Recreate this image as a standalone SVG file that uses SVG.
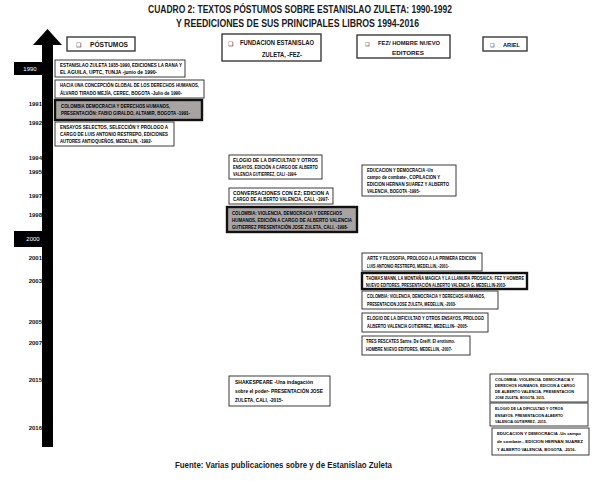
<svg xmlns="http://www.w3.org/2000/svg" width="599" height="481" viewBox="0 0 599 481">
<style>
.bg{fill:#fff}
.box{fill:#fff;stroke:#3a3a3a;stroke-width:1}
.hbox{fill:#fff;stroke:#3a3a3a;stroke-width:1.4}
.thick{stroke:#111;stroke-width:2.4}
.gray{fill:#a9a4a4}
.t{font-family:"Liberation Sans",Arial,sans-serif;font-weight:bold;font-size:5.3px;fill:#000}
.s{font-size:4.2px}
.h{font-family:"Liberation Sans",Arial,sans-serif;font-weight:bold;font-size:7px;fill:#111}
.cb{font-family:"DejaVu Sans",sans-serif;font-size:6px;fill:#111}
.yr{font-family:"Liberation Sans",Arial,sans-serif;font-weight:bold;font-size:6px;fill:#111;text-anchor:end}
.yw{font-family:"Liberation Sans",Arial,sans-serif;font-size:6px;fill:#fff;text-anchor:middle}
.title{font-family:"Liberation Sans",Arial,sans-serif;font-weight:bold;font-size:11px;fill:#1a1a1a}
.src{font-family:"Liberation Sans",Arial,sans-serif;font-weight:bold;font-size:8.5px;fill:#1a1a1a}
</style>
<rect class="bg" x="0" y="0" width="599" height="481"/>
<g id="title">
<text class="title" x="148" y="13" textLength="304" lengthAdjust="spacingAndGlyphs">CUADRO 2: TEXTOS PÓSTUMOS SOBRE ESTANISLAO ZULETA: 1990-1992</text>
<text class="title" x="176" y="27" textLength="243" lengthAdjust="spacingAndGlyphs">Y REEDICIONES DE SUS PRINCIPALES LIBROS 1994-2016</text>
</g>
<g id="timeline">
<polygon points="47.5,29 62,45 53,45 53,447 42,447 42,45 33,45" fill="#000"/>
<rect x="14" y="62" width="30" height="13" fill="#000"/>
<text class="yw" x="30" y="71">1990</text>
<rect x="14" y="231" width="30" height="16" fill="#000"/>
<text class="yw" x="33" y="241">2000</text>
<text class="yr" x="42" y="106">1991</text>
<text class="yr" x="42" y="125">1992</text>
<text class="yr" x="42" y="160">1994</text>
<text class="yr" x="42" y="174">1995</text>
<text class="yr" x="42" y="198">1997</text>
<text class="yr" x="42" y="217">1998</text>
<text class="yr" x="42" y="260">2001</text>
<text class="yr" x="42" y="283">2003</text>
<text class="yr" x="42" y="324">2005</text>
<text class="yr" x="42" y="345">2007</text>
<text class="yr" x="42" y="382">2015</text>
<text class="yr" x="42" y="430">2016</text>
</g>
<g id="h-postumos">
<rect class="hbox" x="67" y="37" width="68" height="14"/>
<text class="cb" x="76" y="47">❑</text>
<text class="h" x="90" y="47" textLength="38" lengthAdjust="spacingAndGlyphs">PÓSTUMOS</text>
</g>
<g id="h-fundacion">
<rect class="hbox" x="222" y="34" width="99" height="27"/>
<text class="cb" x="228" y="46">❑</text>
<text class="h" x="240" y="45" textLength="74" lengthAdjust="spacingAndGlyphs">FUNDACION ESTANISLAO</text>
<text class="h" x="262" y="57" textLength="40" lengthAdjust="spacingAndGlyphs">ZULETA, -FEZ-</text>
</g>
<g id="h-fez">
<rect class="hbox" x="357" y="35" width="93" height="23"/>
<text class="cb" x="365" y="46" style="font-size:5px">❑</text>
<text class="h" x="378" y="45" textLength="62" lengthAdjust="spacingAndGlyphs" style="font-size:6px">FEZ/ HOMBRE NUEVO</text>
<text class="h" x="392" y="55" textLength="32" lengthAdjust="spacingAndGlyphs" style="font-size:6px">EDITORES</text>
</g>
<g id="h-ariel">
<rect class="hbox" x="483" y="37" width="44" height="14"/>
<text class="cb" x="490" y="47" style="font-size:5px">❑</text>
<text class="h" x="503" y="47" textLength="17" lengthAdjust="spacingAndGlyphs" style="font-size:6px">ARIEL</text>
</g>
<g id="p1990a">
<rect class="box" x="55" y="60" width="130" height="17"/>
<text class="t" x="60" y="67" textLength="122" lengthAdjust="spacingAndGlyphs">ESTANISLAO ZULETA 1935-1990, EDICIONES LA RANA Y</text>
<text class="t" x="60" y="74" textLength="97" lengthAdjust="spacingAndGlyphs">EL AGUILA, UPTC, TUNJA -junio de 1990-</text>
</g>
<g id="p1990b">
<rect class="box" x="55" y="80" width="149" height="18"/>
<text class="t" x="60" y="87" textLength="139" lengthAdjust="spacingAndGlyphs">HACIA UNA CONCEPCIÓN GLOBAL DE LOS DERECHOS HUMANOS,</text>
<text class="t" x="60" y="95" textLength="122" lengthAdjust="spacingAndGlyphs">ÁLVARO TIRADO MEJÍA, CEREC, BOGOTA -Julio de 1990-</text>
</g>
<g id="p1991">
<rect class="box thick gray" x="55" y="100" width="147" height="20"/>
<text class="t" x="61" y="108" textLength="109" lengthAdjust="spacingAndGlyphs">COLOMBIA DEMOCRACIA Y DERECHOS HUMANOS,</text>
<text class="t" x="61" y="115" textLength="129" lengthAdjust="spacingAndGlyphs">PRESENTACIÓN: FABIO GIRALDO, ALTAMIR, BOGOTA -1991-</text>
</g>
<g id="p1992">
<rect class="box" x="55" y="122" width="119" height="24"/>
<text class="t" x="60" y="129" textLength="108" lengthAdjust="spacingAndGlyphs">ENSAYOS SELECTOS, SELECCIÓN Y PROLOGO A</text>
<text class="t" x="60" y="136" textLength="108" lengthAdjust="spacingAndGlyphs">CARGO DE LUIS ANTONIO RESTREPO, EDICIONES</text>
<text class="t" x="60" y="143" textLength="92" lengthAdjust="spacingAndGlyphs">AUTORES ANTIOQUEÑOS, MEDELLIN, -1992-</text>
</g>
<g id="f1994">
<rect class="box" x="229" y="155" width="93" height="24"/>
<text class="t" x="233" y="162" textLength="85" lengthAdjust="spacingAndGlyphs">ELOGIO DE LA DIFICULTAD Y OTROS</text>
<text class="t" x="233" y="169" textLength="85" lengthAdjust="spacingAndGlyphs">ENSAYOS, EDICIÓN A CARGO DE ALBERTO</text>
<text class="t" x="233" y="176" textLength="64" lengthAdjust="spacingAndGlyphs">VALENCIA GUTIERREZ, CALI -1994-</text>
</g>
<g id="f1997">
<rect class="box" x="229" y="188" width="104" height="16"/>
<text class="t" x="233" y="195" textLength="96" lengthAdjust="spacingAndGlyphs">CONVERSACIONES CON EZ; EDICION A</text>
<text class="t" x="233" y="201" textLength="96" lengthAdjust="spacingAndGlyphs">CARGO DE ALBERTO VALENCIA, CALI, -1997-</text>
</g>
<g id="f1998">
<rect class="box thick gray" x="227" y="207" width="130" height="25"/>
<text class="t" x="232" y="215" textLength="110" lengthAdjust="spacingAndGlyphs">COLOMBIA: VIOLENCIA, DEMOCRACIA Y DERECHOS</text>
<text class="t" x="232" y="222" textLength="120" lengthAdjust="spacingAndGlyphs">HUMANOS, EDICIÓN A CARGO DE ALBERTO VALENCIA</text>
<text class="t" x="232" y="229" textLength="116" lengthAdjust="spacingAndGlyphs">GUTIERREZ PRESENTACIÓN JOSE ZULETA, CALI, -1998-</text>
</g>
<g id="f2015">
<rect class="box" x="229" y="376" width="101" height="30"/>
<text class="t" x="235" y="384" textLength="78" lengthAdjust="spacingAndGlyphs">SHAKESPEARE -Una indagación</text>
<text class="t" x="235" y="393" textLength="88" lengthAdjust="spacingAndGlyphs">sobre el poder- PRESENTACIÓN JOSE</text>
<text class="t" x="235" y="402" textLength="48" lengthAdjust="spacingAndGlyphs">ZULETA, CALI, -2015-</text>
</g>
<g id="z1995">
<rect class="box" x="362" y="165" width="94" height="31"/>
<text class="t" x="367" y="172" textLength="66" lengthAdjust="spacingAndGlyphs">EDUCACION Y DEMOCRACIA -Un</text>
<text class="t" x="367" y="179" textLength="73" lengthAdjust="spacingAndGlyphs">campo de combate-, COPILACION Y</text>
<text class="t" x="367" y="186" textLength="82" lengthAdjust="spacingAndGlyphs">EDICION HERNAN SUAREZ Y ALBERTO</text>
<text class="t" x="367" y="193" textLength="53" lengthAdjust="spacingAndGlyphs">VALENCIA, BOGOTA -1995-</text>
</g>
<g id="z2001">
<rect class="box" x="362" y="253" width="120" height="18"/>
<text class="t" x="367" y="260" textLength="109" lengthAdjust="spacingAndGlyphs">ARTE Y FILOSOFIA, PROLOGO A LA PRIMERA EDICION</text>
<text class="t" x="367" y="268" textLength="82" lengthAdjust="spacingAndGlyphs">LUIS ANTONIO RESTREPO, MEDELLIN, -2001-</text>
</g>
<g id="z2003a">
<rect class="box thick" x="362" y="273" width="165" height="16"/>
<text class="t" x="366" y="280" textLength="158" lengthAdjust="spacingAndGlyphs">THOMAS MANN, LA MONTAÑA MAGICA Y LA LLANURA PROSAICA: FEZ Y HOMBRE</text>
<text class="t" x="366" y="287" textLength="140" lengthAdjust="spacingAndGlyphs">NUEVO EDITORES, PRESENTACIÓN ALBERTO VALENCIA G. MEDELLIN-2003-</text>
</g>
<g id="z2003b">
<rect class="box" x="362" y="291" width="136" height="18"/>
<text class="t" x="367" y="298" textLength="118" lengthAdjust="spacingAndGlyphs">COLOMBIA: VIOLENCIA, DEMOCRACIA Y DERECHOS HUMANOS,</text>
<text class="t" x="367" y="306" textLength="89" lengthAdjust="spacingAndGlyphs">PRESENTACION JOSE ZULETA, MEDELLIN, -2003-</text>
</g>
<g id="z2005">
<rect class="box" x="362" y="313" width="126" height="19"/>
<text class="t" x="367" y="320" textLength="117" lengthAdjust="spacingAndGlyphs">ELOGIO DE LA DIFICULTAD Y OTROS ENSAYOS, PROLOGO</text>
<text class="t" x="367" y="328" textLength="101" lengthAdjust="spacingAndGlyphs">ALBERTO VALENCIA GUTIERREZ, MEDELLIN- -2005-</text>
</g>
<g id="z2007">
<rect class="box" x="362" y="336" width="108" height="19"/>
<text class="t" x="366" y="343" textLength="89" lengthAdjust="spacingAndGlyphs">TRES RESCATES Sartre.  De Greiff.  El erotismo.</text>
<text class="t" x="366" y="351" textLength="86" lengthAdjust="spacingAndGlyphs">HOMBRE NUEVO EDITORES, MEDELLIN, -2007-</text>
</g>
<g id="a2015a">
<rect class="box" x="490" y="374" width="98" height="28"/>
<text class="t s" x="495" y="381" textLength="79" lengthAdjust="spacingAndGlyphs">COLOMBIA: VIOLENCIA, DEMOCRACIA Y</text>
<text class="t s" x="495" y="387" textLength="80" lengthAdjust="spacingAndGlyphs">DERECHOS HUMANOS, EDICION A CARGO</text>
<text class="t s" x="495" y="393" textLength="79" lengthAdjust="spacingAndGlyphs">DE ALBERTO VALENCIA, PRESENTACION</text>
<text class="t s" x="495" y="399" textLength="50" lengthAdjust="spacingAndGlyphs">JOSE ZULETA, BOGOTA, 2015-</text>
</g>
<g id="a2015b">
<rect class="box" x="490" y="403" width="98" height="23"/>
<text class="t s" x="495" y="410" textLength="68" lengthAdjust="spacingAndGlyphs">ELOGIO DE LA DIFICULTAD Y OTROS</text>
<text class="t s" x="495" y="417" textLength="68" lengthAdjust="spacingAndGlyphs">ENSAYOS, PRESENTACION ALBERTO</text>
<text class="t s" x="495" y="423" textLength="52" lengthAdjust="spacingAndGlyphs">VALENCIA GUTIERREZ,  -2015-</text>
</g>
<g id="a2016">
<rect class="box" x="492" y="428" width="97" height="27"/>
<text class="t s" x="497" y="435" textLength="84" lengthAdjust="spacingAndGlyphs">EDUCACION Y DEMOCRACIA -Un campo</text>
<text class="t s" x="497" y="443" textLength="86" lengthAdjust="spacingAndGlyphs">de combate-, EDICION HERNAN SUAREZ</text>
<text class="t s" x="497" y="451" textLength="79" lengthAdjust="spacingAndGlyphs">Y ALBERTO VALENCIA, BOGOTA, -2016-</text>
</g>
<g id="connectors"></g>
<g id="source">
<text class="src" x="175" y="468" textLength="217" lengthAdjust="spacingAndGlyphs">Fuente: Varias publicaciones sobre y de Estanislao Zuleta</text>
</g>
</svg>
